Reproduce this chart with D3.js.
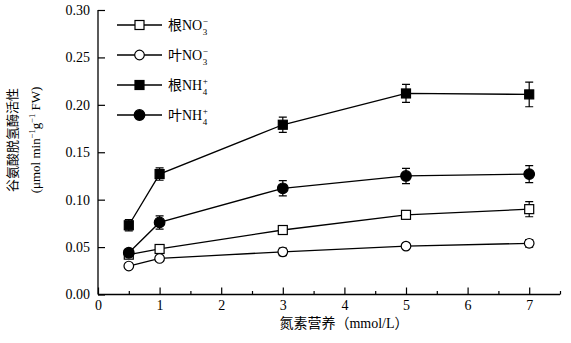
<!DOCTYPE html>
<html><head><meta charset="utf-8">
<script src="https://cdn.jsdelivr.net/npm/d3@7"></script>
<style>body{margin:0;background:#fff}svg{display:block}</style>
</head><body>
<svg id="c" width="571" height="343"></svg>
<script>
const xValues = [0.5, 1, 3, 5, 7];
const rootNO3 = [0.042, 0.048, 0.068, 0.084, 0.090];
const rootNO3Err = [0.003, 0.004, 0.002, 0.002, 0.008];
const leafNO3 = [0.030, 0.038, 0.045, 0.051, 0.054];
const leafNO3Err = [0.002, 0.003, 0.004, 0.002, 0.004];
const rootNH4 = [0.073, 0.127, 0.179, 0.212, 0.211];
const rootNH4Err = [0.006, 0.0065, 0.008, 0.0095, 0.013];
const leafNH4 = [0.044, 0.076, 0.112, 0.125, 0.127];
const leafNH4Err = [0.004, 0.007, 0.008, 0.008, 0.009];
const xTicks = [0, 1, 2, 3, 4, 5, 6, 7];
const yTicks = [0, 0.05, 0.10, 0.15, 0.20, 0.25, 0.30];
const seriesNames = [["根NO", "3", "−"], ["叶NO", "3", "−"], ["根NH", "4", "+"], ["叶NH", "4", "+"]];

const series = [
  {vals: rootNO3, err: rootNO3Err, shape: "square", fill: "#fff"},
  {vals: leafNO3, err: leafNO3Err, shape: "circle", fill: "#fff"},
  {vals: rootNH4, err: rootNH4Err, shape: "square", fill: "#000"},
  {vals: leafNH4, err: leafNH4Err, shape: "circle", fill: "#000"}
];

const svg = d3.select("#c");
const m = {l: 98, r: 11, t: 10, b: 48.5};
const W = 571, H = 343;
const x = d3.scaleLinear().domain([0, 7.5]).range([m.l, W - m.r]);
const y = d3.scaleLinear().domain([0, 0.30]).range([H - m.b, m.t]);
const serif = "'Liberation Serif','Times New Roman',serif";
const cjk = "'Liberation Serif','Noto Sans CJK SC',serif";

// axes
const gx = svg.append("g").attr("transform", `translate(0,${y(0)})`)
  .call(d3.axisBottom(x).tickValues(xTicks).tickSize(-7).tickPadding(6).tickFormat(d3.format("d")));
svg.append("g").attr("transform", `translate(0,${y(0)})`)
  .call(d3.axisBottom(x).tickValues([0.5,1.5,2.5,3.5,4.5,5.5,6.5,7.5]).tickSize(-3.5).tickFormat(""))
  .call(g => g.select(".domain").remove());
const gy = svg.append("g").attr("transform", `translate(${x(0)},0)`)
  .call(d3.axisLeft(y).tickValues(yTicks).tickSize(-7).tickPadding(8).tickFormat(d3.format(".2f")));
svg.selectAll(".domain").attr("stroke", "#000").attr("stroke-width", 1.3);
svg.selectAll(".tick line").attr("stroke", "#000").attr("stroke-width", 1.2);
svg.selectAll(".tick text").attr("font-family", serif).attr("font-size", 14).attr("fill", "#000");
gx.selectAll(".domain").attr("d", `M${x(0)},0H${x(7.5)}`);
gy.selectAll(".domain").attr("d", `M0,${y(0)}V${y(0.3)}`);

const line = d3.line().x((d, i) => x(xValues[i])).y(d => y(d));

function marker(g, shape, fill, cx, cy) {
  if (shape === "square") {
    g.append("rect").attr("x", cx - 4.5).attr("y", cy - 4.5).attr("width", 9).attr("height", 9)
      .attr("fill", fill).attr("stroke", "#000").attr("stroke-width", 1.2);
  } else {
    g.append("circle").attr("cx", cx).attr("cy", cy).attr("r", fill === "#000" ? 5.3 : 4.8)
      .attr("fill", fill).attr("stroke", "#000").attr("stroke-width", 1.2);
  }
}

series.forEach(s => {
  const g = svg.append("g");
  g.append("path").attr("d", line(s.vals)).attr("fill", "none").attr("stroke", "#000").attr("stroke-width", 1.3);
  s.vals.forEach((v, i) => {
    const cx = x(xValues[i]);
    const e = s.err[i];
    g.append("path").attr("d",
      `M${cx},${y(v + e)}V${y(v - e)}M${cx - 4},${y(v + e)}H${cx + 4}M${cx - 4},${y(v - e)}H${cx + 4}`)
      .attr("stroke", "#000").attr("stroke-width", 1.2).attr("fill", "none");
  });
  s.vals.forEach((v, i) => marker(g, s.shape, s.fill, x(xValues[i]), y(v)));
});

// legend
const legY = [25, 55, 85, 115];
series.forEach((s, i) => {
  const g = svg.append("g");
  const ly = legY[i];
  g.append("line").attr("x1", 117).attr("x2", 162).attr("y1", ly).attr("y2", ly)
    .attr("stroke", "#000").attr("stroke-width", 1.3);
  marker(g, s.shape, s.fill, 139.5, ly);
  const t = g.append("text").attr("x", 168).attr("y", ly + 5).attr("font-size", 14)
    .attr("font-family", cjk).attr("fill", "#000");
  const nm = seriesNames[i];
  t.append("tspan").text(nm[0]);
  const w = t.node().getComputedTextLength();
  g.append("text").attr("font-family", serif).attr("font-size", 9).attr("fill", "#000")
    .attr("x", 168 + w + 0.5).attr("y", ly + 10).text(nm[1]);
  g.append("text").attr("font-family", serif).attr("font-size", 9).attr("fill", "#000")
    .attr("x", 168 + w + 0.5).attr("y", ly - 1).text(nm[2]);
});

// y label
const yl = svg.append("g").attr("transform", "translate(17,140) rotate(-90)");
yl.append("text").attr("text-anchor", "middle").attr("font-family", cjk).attr("font-size", 13)
  .attr("fill", "#000").text("谷氨酸脱氢酶活性");
const yl2 = yl.append("text").attr("text-anchor", "middle").attr("y", 23).attr("font-family", serif)
  .attr("font-size", 13).attr("fill", "#000");
yl2.append("tspan").text("(μmol min");
yl2.append("tspan").attr("dy", -5).attr("font-size", 8.5).text("−1");
yl2.append("tspan").attr("dy", 5).text("g");
yl2.append("tspan").attr("dy", -5).attr("font-size", 8.5).text("−1");
yl2.append("tspan").attr("dy", 5).text(" FW)");

// x label
svg.append("text").attr("x", 344).attr("y", 328).attr("text-anchor", "middle")
  .attr("font-family", cjk).attr("font-size", 14).attr("fill", "#000").text("氮素营养（mmol/L）");
</script>
</body></html>
